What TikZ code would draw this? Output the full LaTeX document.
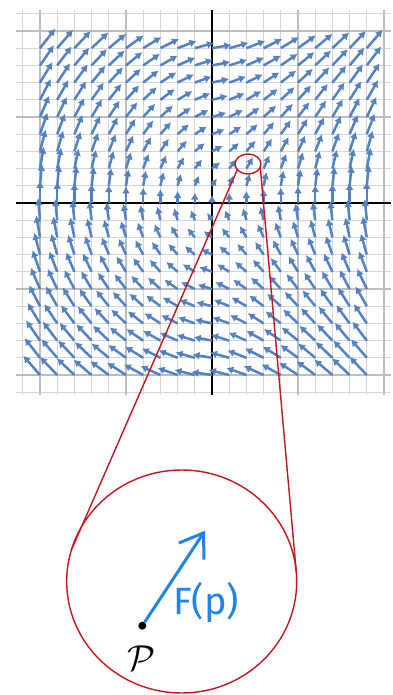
\documentclass[tikz,border=0pt]{standalone}
\usepackage{fix-cm}
\usepackage{amsmath,amssymb}
\usepackage{fontspec}
\newfontfamily\handfont{Fira Sans}
\usepackage{xcolor}
\usepackage{tikz}
\usetikzlibrary{arrows.meta,shapes.geometric,calc}
\definecolor{fieldblue}{HTML}{5282C2}
\definecolor{fpblue}{HTML}{1E84EA}
\definecolor{lensred}{HTML}{C4161C}

\begin{document}
\begin{tikzpicture}[x=1pt, y=1pt,
  minorline/.style={gray!32, line width=1.2pt},
  majorline/.style={gray!52, line width=1.3pt},
  fieldarrow/.style={fieldblue, line width=2.5pt, -{Latex[length=7pt,width=8pt]}},
  lens/.style={draw=lensred, line width=1.4pt, ellipse, inner sep=0pt, outer sep=0pt}]
  \useasboundingbox (0,0) rectangle (392,695);

  % Vector field plot (origin at pixel 212/203, grid step 17.2)
  \begin{scope}[shift={(212,492)}, x=17.2pt, y=17.2pt]
    % minor and major grid
    \foreach \k in {-11,...,10}
      \draw[minorline] (\k,-11.16) -- (\k,11.22);
    \foreach \k in {-11,...,11}
      \draw[minorline] (-11.4,\k) -- (10.4,\k);
    \foreach \k in {-10,-5,5,10} {
      \draw[majorline] (\k,-11.16) -- (\k,11.22);
      \draw[majorline] (-11.4,\k) -- (10.4,\k);
    }
    % axes
    \draw[black, line width=1.5pt] (0,-11.16) -- (0,11.22);
    \draw[black, line width=1.5pt] (-11.4,0) -- (10.4,0);

    % field F(x,y) = (y, 1.5+|x|), length ~ sqrt|F|
    \foreach \i in {-10,...,9} {
      \foreach \j in {-10,...,9} {
        \pgfmathsetmacro\fx{\j}
        \pgfmathsetmacro\fy{1.5+abs(\i)}
        \pgfmathsetmacro\fn{sqrt(\fx*\fx+\fy*\fy)}
        \pgfmathsetmacro\dx{0.38*\fx/sqrt(\fn)}
        \pgfmathsetmacro\dy{0.38*\fy/sqrt(\fn)}
        \draw[fieldarrow] (\i,\j) -- ++(\dx,\dy);
      }
    }
  \end{scope}

  % Magnifier: small spot and zoomed view
  \node[lens, minimum width=26pt, minimum height=20pt] (spot) at (248,531) {};
  \node[lens, minimum width=230pt, minimum height=223pt] (zoomview) at (181.7,113.5) {};
  \draw[lensred, line width=1.4pt] (spot.208) -- (zoomview.164);
  \draw[lensred, line width=1.4pt] (spot.345) -- (zoomview.5);

  % Point p and vector F(p)
  \node[circle, fill=black, inner sep=0pt, minimum size=8pt] (p) at (142.3,69.3) {};
  \coordinate (ftip) at (205,164.3);
  \draw[fpblue, line width=3pt, -{Straight Barb[length=22pt,width=30pt]}] (p) -- (ftip);
  \node[fpblue, font=\handfont\fontsize{38}{42}\selectfont] (flabel) at (206,93) {F(p)};
  \node[font=\fontsize{36}{40}\selectfont] (plabel) at (141,37) {$\mathcal{P}$};
\end{tikzpicture}
\end{document}
